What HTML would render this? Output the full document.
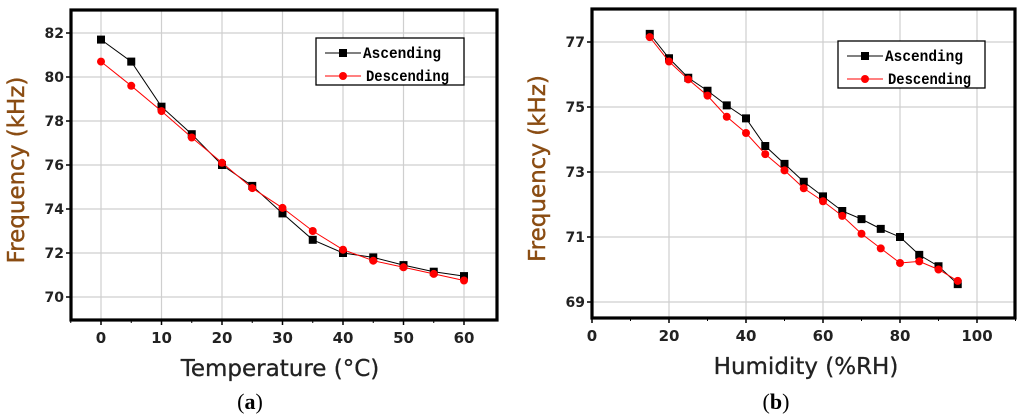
<!DOCTYPE html>
<html><head><meta charset="utf-8"><style>
body{margin:0;background:#fff;width:1024px;height:415px;overflow:hidden}
svg{display:block}
</style></head><body>
<svg id="s" width="1024" height="415"></svg>
<script>
const tempX=[0,5,10,15,20,25,30,35,40,45,50,55,60];
const tempAsc=[81.7,80.7,78.65,77.4,76.0,75.05,73.8,72.6,72.0,71.8,71.45,71.15,70.95];
const tempDesc=[80.7,79.6,78.45,77.25,76.1,74.95,74.05,73.0,72.15,71.65,71.35,71.05,70.75];
const tempXTicks=[0,10,20,30,40,50,60];
const tempYTicks=[70,72,74,76,78,80,82];
const humX=[15,20,25,30,35,40,45,50,55,60,65,70,75,80,85,90,95];
const humAsc=[77.25,76.5,75.9,75.5,75.05,74.65,73.8,73.25,72.7,72.25,71.8,71.55,71.25,71.0,70.45,70.1,69.55];
const humDesc=[77.15,76.4,75.85,75.35,74.7,74.2,73.55,73.05,72.5,72.1,71.65,71.1,70.65,70.2,70.25,70.0,69.65];
const humXTicks=[0,20,40,60,80,100];
const humYTicks=[69,71,73,75,77];
const NS='http://www.w3.org/2000/svg';
const svg=document.getElementById('s');
function mk(t,a,p){const e=document.createElementNS(NS,t);for(const k in a)e.setAttribute(k,a[k]);(p||svg).appendChild(e);return e;}
function panel(o){
 const g=mk('g',{});
 
 
 const sx=v=>o.x0+(v-o.xa)*(o.x1-o.x0)/(o.xb-o.xa);
 const sy=v=>o.y0+(v-o.ya)*(o.y1-o.y0)/(o.yb-o.ya);
 o.xt.forEach(v=>{mk('line',{x1:sx(v),x2:sx(v),y1:o.top,y2:o.bot,stroke:'#cfcfcf','stroke-width':1.2},g);
  const t=mk('text',{x:sx(v),y:o.bot+23,'text-anchor':'middle','font-family':'DejaVu Sans, Liberation Sans, sans-serif','font-size':15,'font-weight':'bold',fill:'#222'},g);t.textContent=v;
  
  mk('line',{x1:sx(v),x2:sx(v),y1:o.bot,y2:o.bot+5,stroke:'#000','stroke-width':1.5},g);});
 o.xm.forEach(v=>mk('line',{x1:sx(v),x2:sx(v),y1:o.bot,y2:o.bot+3,stroke:'#000','stroke-width':1},g));
 o.yt.forEach(v=>{mk('line',{x1:o.left,x2:o.right,y1:sy(v),y2:sy(v),stroke:'#cfcfcf','stroke-width':1.2},g);
  const t=mk('text',{x:o.left-7,y:sy(v)+5,'text-anchor':'end','font-family':'DejaVu Sans, Liberation Sans, sans-serif','font-size':14,'font-weight':'bold',fill:'#222'},g);t.textContent=v;
  
  mk('line',{x1:o.left-5,x2:o.left,y1:sy(v),y2:sy(v),stroke:'#000','stroke-width':1.5},g);});
 const fr=mk('rect',{x:o.left,y:o.top,width:o.right-o.left,height:o.bot-o.top,fill:'none',stroke:'#000','stroke-width':3.2},g);
 
 [[o.asc,'#000','sq','ascending-series'],[o.desc,'#f00','ci','descending-series']].forEach(([d,c,m,n])=>{
  const sg=mk('g',{},g);
  mk('polyline',{points:o.xs.map((x,i)=>sx(x)+','+sy(d[i])).join(' '),fill:'none',stroke:c,'stroke-width':1},sg);
  o.xs.forEach((x,i)=>{const e=m=='sq'?mk('rect',{x:sx(x)-4,y:sy(d[i])-4,width:8,height:8,fill:c},sg):mk('circle',{cx:sx(x),cy:sy(d[i]),r:4,fill:c},sg);
   });
 });
 const lg=mk('g',{},g);
 const L=o.leg;mk('rect',{x:L[0],y:L[1],width:L[2],height:L[3],fill:'#fff',stroke:'#000','stroke-width':1.3},lg);
 [['Ascending','#000','sq'],['Descending','#f00','ci']].forEach(([n,c,m],i)=>{
  const y=L[1]+15+i*23;
  mk('line',{x1:L[0]+9,x2:L[0]+45,y1:y,y2:y,stroke:c,'stroke-width':1},lg);
  if(m=='sq')mk('rect',{x:L[0]+23,y:y-4,width:8,height:8,fill:c},lg);else mk('circle',{cx:L[0]+27,cy:y,r:4,fill:c},lg);
  const t=mk('text',{x:L[0]+(i?50:47),y:y+5,'font-family':'Liberation Mono, monospace','font-size':15.5,'font-weight':'bold',fill:'#000',textLength:i?83:78,lengthAdjust:'spacingAndGlyphs'},lg);t.textContent=n;
  
 });
 const yt=mk('text',{x:0,y:0,transform:`translate(${o.left-47},${(o.top+o.bot)/2+5}) rotate(-90)`,'text-anchor':'middle','font-family':'DejaVu Sans, Liberation Sans, sans-serif','font-size':23,fill:'#8a4c12',stroke:'#8a4c12','stroke-width':0.4},g);yt.textContent='Frequency (kHz)';
 
 const xt=mk('text',{x:o.xtx,y:o.bot+56,'text-anchor':'middle','font-family':'DejaVu Sans, Liberation Sans, sans-serif','font-size':23,fill:'#222',stroke:'#222','stroke-width':0.3},g);xt.textContent=o.xtitle;
 
 const cp=mk('text',{x:o.xtx-30,y:409,'text-anchor':'middle','font-family':'Liberation Serif, serif','font-size':22,fill:'#000'},g);
 cp.innerHTML='(<tspan font-weight="bold">'+o.cap+'</tspan>)';
 
}
panel({name:'panel-a-temperature',left:71,right:497,top:10,bot:320,x0:101,x1:464,xa:0,xb:60,y0:33,y1:297,ya:82,yb:70,
 xt:tempXTicks,xm:[-5,5,15,25,35,45,55],yt:tempYTicks,xs:tempX,asc:tempAsc,desc:tempDesc,leg:[316,38,148,47],xtitle:'Temperature (°C)',xtx:280,cap:'a'});
panel({name:'panel-b-humidity',left:592,right:1015,top:9,bot:318,x0:592,x1:977,xa:0,xb:100,y0:42,y1:302,ya:77,yb:69,
 xt:humXTicks,xm:[10,30,50,70,90,110],yt:humYTicks,xs:humX,asc:humAsc,desc:humDesc,leg:[838,41,147,47],xtitle:'Humidity (%RH)',xtx:806,cap:'b'});
</script>
</body></html>
